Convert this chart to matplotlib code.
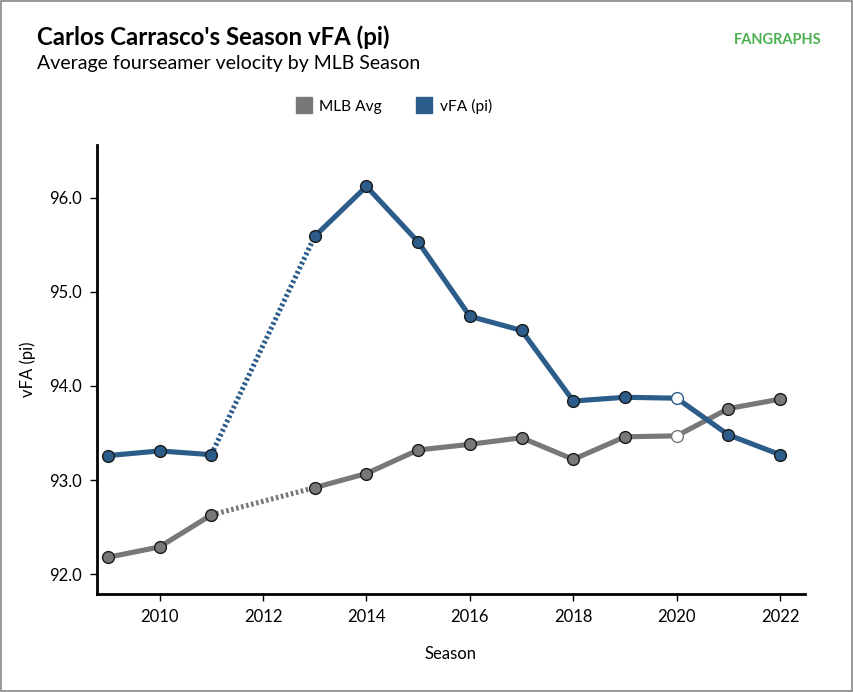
import matplotlib
matplotlib.use("Agg")
import matplotlib.pyplot as plt
from matplotlib.lines import Line2D
from matplotlib.patches import Rectangle

plt.rcParams['font.family'] = ['Lato', 'DejaVu Sans']

seasons = [2009, 2010, 2011, 2013, 2014, 2015, 2016, 2017, 2018, 2019, 2020, 2021, 2022]
vfa = [93.26, 93.31, 93.27, 95.59, 96.12, 95.53, 94.74, 94.59, 93.84, 93.88, 93.87, 93.48, 93.27]
mlb = [92.18, 92.29, 92.63, 92.92, 93.07, 93.32, 93.38, 93.45, 93.22, 93.46, 93.47, 93.76, 93.86]
open_season = 2020
gap = (2011, 2013)
xticks = [2010, 2012, 2014, 2016, 2018, 2020, 2022]
yticks = [92.0, 93.0, 94.0, 95.0, 96.0]

BLUE = '#2b5c8a'
GRAY = '#787878'

fig = plt.figure(figsize=(8.54, 6.92), dpi=100)
ax = fig.add_axes([97/854, 1-594/692, (805-97)/854, (594-145)/692])

def draw(vals, color):
    for i in range(len(seasons)-1):
        x0, x1 = seasons[i], seasons[i+1]
        ls = (0, (0.5, 0.5)) if (x0, x1) == gap else '-'
        ax.plot([x0, x1], [vals[i], vals[i+1]], color=color, lw=3.7, ls=ls,
                solid_capstyle='butt', dash_capstyle='butt', zorder=2)
    for s, v in zip(seasons, vals):
        fc = 'white' if s == open_season else color
        ec = color if s == open_season else '#1a1a1a'
        ax.plot([s], [v], 'o', ms=8.5, mfc=fc, mec=ec, mew=1.0, zorder=3)

draw(mlb, GRAY)
draw(vfa, BLUE)

ax.set_xlim(2008.79, 2022.48)
ax.set_ylim(91.79, 96.56)
ax.set_xticks(xticks)
ax.set_xticklabels([str(t) for t in xticks], fontsize=12)
ax.set_yticks(yticks)
ax.set_yticklabels([f"{t:.1f}" for t in yticks], fontsize=12)
for sp in ['top', 'right']:
    ax.spines[sp].set_visible(False)
for sp in ['left', 'bottom']:
    ax.spines[sp].set_linewidth(2)
ax.tick_params(direction='out', length=5, width=1, pad=6)
ax.set_xlabel('Season', fontsize=12, labelpad=15)
ax.set_ylabel('vFA (pi)', fontsize=12, labelpad=9)

fig.text(37/854, 1-37/692, "Carlos Carrasco's Season vFA (pi)", fontsize=17.3,
         fontweight='bold', va='center', ha='left')
fig.text(37/854, 1-63/692, "Average fourseamer velocity by MLB Season", fontsize=14,
         va='center', ha='left')
fig.text(822/854, 1-40/692, "FANGRAPHS", fontsize=10.5, fontweight='bold',
         color='#4caf50', va='center', ha='right')

handles = [Line2D([], [], ls='none', marker='s', ms=11, mfc=GRAY, mec=GRAY),
           Line2D([], [], ls='none', marker='s', ms=11, mfc=BLUE, mec=BLUE)]
fig.legend(handles, ['MLB Avg', 'vFA (pi)'], loc='center', ncol=2,
           bbox_to_anchor=(394/854, 1-106/692), frameon=False, fontsize=11.2,
           handletextpad=0.5, columnspacing=2.2, handlelength=1.0)

fig.add_artist(Rectangle((0.001, 0.001), 0.997, 0.997, transform=fig.transFigure,
                         fill=False, edgecolor='#888888', lw=1.2))

fig.savefig('out.png', dpi=100)
